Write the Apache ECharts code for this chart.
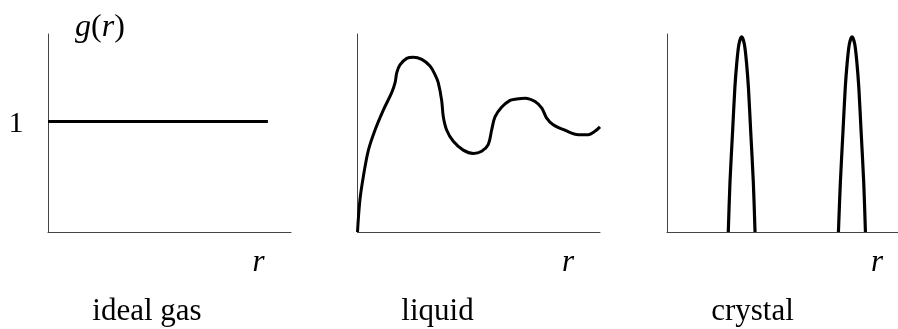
<!DOCTYPE html>
<html>
<head>
<meta charset="utf-8">
<script src="https://cdn.jsdelivr.net/npm/echarts@6/dist/echarts.min.js"></script>
<style>html,body{margin:0;padding:0;background:#fff;}#c{width:898px;height:329px;}</style>
</head>
<body>
<div id="c"></div>
<script>
// Data (r in arbitrary units, g(r) dimensionless)
const gasR = [0, 9.05];
const gasG = [1, 1];

const liquidR = [0, 0.10, 0.24, 0.45, 0.72, 1.06, 1.41, 1.55, 1.62, 1.75, 2.03, 2.30, 2.65, 2.99, 3.20, 3.33, 3.47, 3.54, 3.68, 3.95, 4.36, 4.78, 5.12, 5.39, 5.53, 5.67, 5.95, 6.29, 6.49, 6.91, 7.32, 7.60, 7.80, 8.07, 8.56, 9.11, 9.52, 9.79, 10];
const liquidG = [0, 0.29, 0.50, 0.74, 0.92, 1.10, 1.26, 1.35, 1.44, 1.51, 1.57, 1.58, 1.56, 1.50, 1.42, 1.35, 1.19, 1.04, 0.92, 0.82, 0.74, 0.71, 0.73, 0.79, 0.92, 1.04, 1.13, 1.19, 1.20, 1.21, 1.18, 1.12, 1.03, 0.97, 0.92, 0.88, 0.88, 0.91, 0.95];

const peak1R = [2.52, 2.59, 2.70, 2.79, 2.87, 2.96, 3.07, 3.18, 3.27, 3.35, 3.44, 3.55, 3.62];
const peak1G = [0, 0.45, 0.92, 1.3, 1.53, 1.7, 1.765, 1.7, 1.53, 1.3, 0.92, 0.45, 0];
const peak2R = [7.05, 7.13, 7.24, 7.33, 7.41, 7.50, 7.61, 7.72, 7.81, 7.89, 7.98, 8.09, 8.16];
const peak2G = [0, 0.45, 0.92, 1.3, 1.53, 1.7, 1.765, 1.7, 1.53, 1.3, 0.92, 0.45, 0];

const panelNames = ['ideal gas', 'liquid', 'crystal'];
const yTickLabel = '1';

function zip(a, b) { return a.map((v, i) => [v, b[i]]); }

const FONT = '"Liberation Serif", "DejaVu Serif", serif';
const axisLineStyle = { color: '#444', width: 1 };

const grids = [
  { left: 48, top: 34, width: 243, height: 198 },
  { left: 357.5, top: 34, width: 242.5, height: 198 },
  { left: 667, top: 34, width: 231, height: 198 }
];
const xMax = [10, 10, 9.5];

const xAxes = grids.map((g, i) => ({
  type: 'value', gridIndex: i, min: 0, max: xMax[i],
  axisLine: { show: true, lineStyle: axisLineStyle },
  axisTick: { show: false }, axisLabel: { show: false }, splitLine: { show: false }
}));
const yAxes = grids.map((g, i) => ({
  type: 'value', gridIndex: i, min: 0, max: 1.79, interval: 1,
  axisLine: { show: true, lineStyle: axisLineStyle },
  axisTick: { show: false },
  axisLabel: { show: false },
  splitLine: { show: false }
}));

const lineStyle = { color: '#000', width: 3 };
const series = [
  { type: 'line', xAxisIndex: 0, yAxisIndex: 0, data: zip(gasR, gasG), showSymbol: false, lineStyle },
  { type: 'line', xAxisIndex: 1, yAxisIndex: 1, data: zip(liquidR, liquidG), showSymbol: false, smooth: 0.35, lineStyle },
  { type: 'line', xAxisIndex: 2, yAxisIndex: 2, data: zip(peak1R, peak1G), showSymbol: false, smooth: 0.3, lineStyle: { color: '#000', width: 3.2 } },
  { type: 'line', xAxisIndex: 2, yAxisIndex: 2, data: zip(peak2R, peak2G), showSymbol: false, smooth: 0.3, lineStyle: { color: '#000', width: 3.2 } }
];

function txt(text, x, y, size, italic, rich) {
  return {
    type: 'text', x: x, y: y, silent: true,
    style: {
      text: text, fill: '#000', align: 'center', verticalAlign: 'middle',
      fontFamily: FONT, fontSize: size, fontStyle: italic ? 'italic' : 'normal',
      rich: rich
    }
  };
}

const graphic = [
  txt('{i|g}(' + '{i|r})', 100, 28, 32, false, { i: { fontStyle: 'italic', fontFamily: FONT, fontSize: 32, fill: '#000' } }),
  txt(yTickLabel, 16, 124, 30, false),
  txt('r', 258.5, 263, 31, true),
  txt('r', 568, 263, 31, true),
  txt('r', 877, 263, 31, true),
  txt(panelNames[0], 147, 312, 31, false),
  txt(panelNames[1], 437.5, 312, 31, false),
  txt(panelNames[2], 752.5, 312, 31, false)
];

const chart = echarts.init(document.getElementById('c'), null, { renderer: 'canvas' });
chart.setOption({
  animation: false,
  backgroundColor: '#fff',
  grid: grids,
  xAxis: xAxes,
  yAxis: yAxes,
  series: series,
  graphic: graphic
});
</script>
</body>
</html>
